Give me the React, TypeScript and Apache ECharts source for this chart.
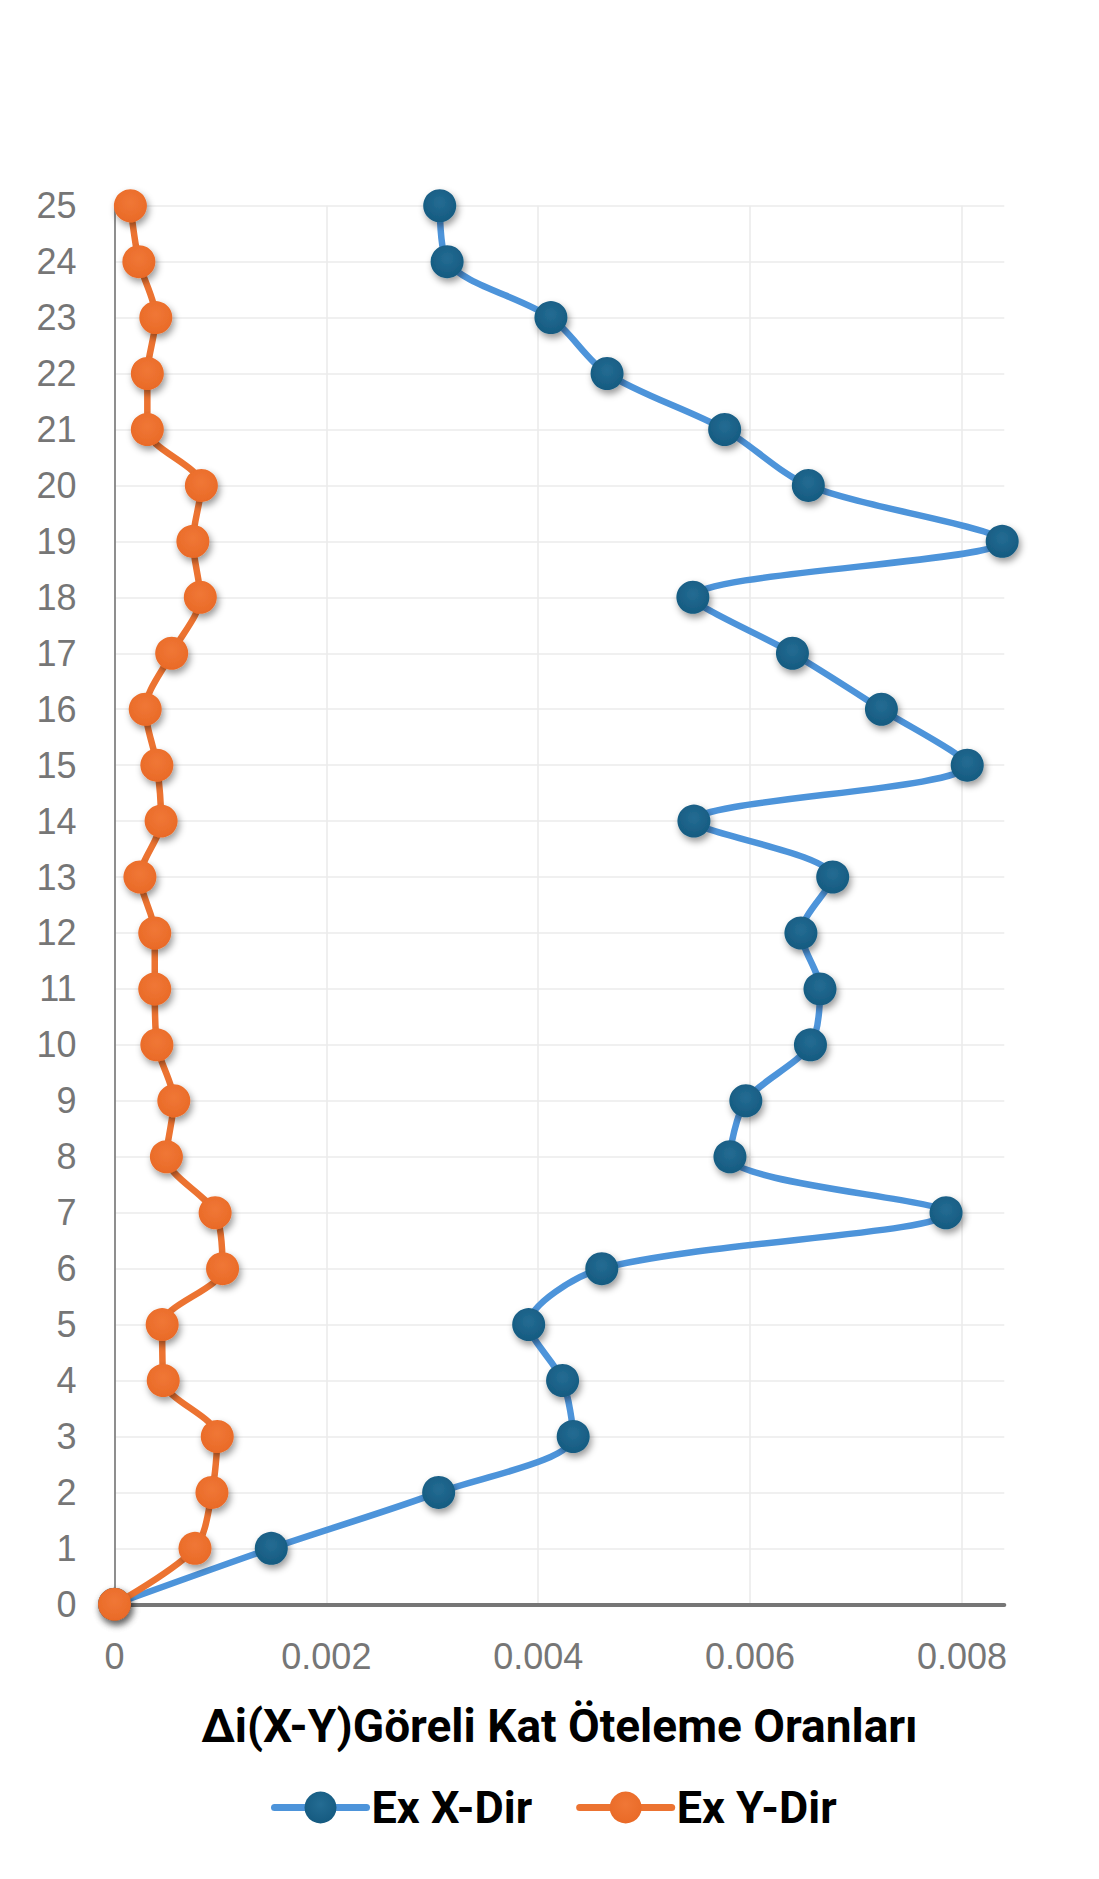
import React, { useEffect, useRef } from "react";
import * as echarts from "echarts";

const floors = [0, 1, 2, 3, 4, 5, 6, 7, 8, 9, 10, 11, 12, 13, 14, 15, 16, 17, 18, 19, 20, 21, 22, 23, 24, 25];
const exXDir = [0, 0.00148, 0.00306, 0.00433, 0.00423, 0.00391, 0.0046, 0.00785, 0.00581, 0.00596, 0.00657, 0.00666, 0.00648, 0.00678, 0.00547, 0.00805, 0.00724, 0.0064, 0.00546, 0.00838, 0.00655, 0.00576, 0.00465, 0.00412, 0.00314, 0.00307];
const exYDir = [0, 0.00076, 0.00092, 0.00097, 0.00046, 0.00045, 0.00102, 0.00095, 0.00049, 0.00056, 0.0004, 0.00038, 0.00038, 0.00024, 0.00044, 0.0004, 0.00029, 0.00054, 0.00081, 0.00074, 0.00082, 0.00031, 0.00031, 0.00039, 0.00023, 0.00015];
const seriesNames = ["Ex X-Dir", "Ex Y-Dir"];
const axisTitle = "Δi(X-Y)Göreli Kat Öteleme Oranları";

export default function App() {
  const ref = useRef<HTMLDivElement>(null);
  useEffect(() => {
    if (!ref.current) return;
    const chart = echarts.init(ref.current, null, { renderer: "svg" });
    const shadow = { shadowBlur: 7, shadowOffsetX: 2, shadowOffsetY: 4, shadowColor: "rgba(0,0,0,0.4)" };
    const blueMarker = {
      type: "radial", x: 0.5, y: 0.4, r: 0.6,
      colorStops: [{ offset: 0, color: "#246C93" }, { offset: 1, color: "#155A80" }],
    };
    const orangeMarker = {
      type: "radial", x: 0.5, y: 0.4, r: 0.6,
      colorStops: [{ offset: 0, color: "#F07736" }, { offset: 1, color: "#E96A27" }],
    };
    const mk = (vals: number[]) => vals.map((v, i) => [v, floors[i]]);
    chart.setOption({
      animation: false,
      backgroundColor: "#ffffff",
      grid: { left: 114.5, right: 94.7, top: 205.7, bottom: 274.7, containLabel: false },
      xAxis: {
        type: "value",
        min: 0,
        max: 0.0084,
        interval: 0.002,
        name: axisTitle,
        nameLocation: "middle",
        nameGap: 99,
        nameTextStyle: { fontFamily: "Roboto", fontWeight: "bold", fontSize: 46, color: "#000000" },
        axisLine: { show: true, lineStyle: { color: "#767676", width: 4 } },
        axisTick: { show: false },
        axisLabel: {
          margin: 34,
          fontFamily: "Liberation Sans, Arial, sans-serif",
          fontSize: 36,
          color: "#767676",
          showMaxLabel: false,
          formatter: (v: number) => (v === 0 ? "0" : v > 0.0081 ? "" : v.toFixed(3)),
        },
        splitLine: {
          show: true,
          lineStyle: { color: ["#EBEBEB", "#EBEBEB", "#EBEBEB", "#EBEBEB", "#EBEBEB", "rgba(0,0,0,0)"], width: 1.6 },
        },
      },
      yAxis: {
        type: "value",
        min: 0,
        max: 25,
        interval: 1,
        axisLine: { show: true, lineStyle: { color: "#767676", width: 1.6 } },
        axisTick: { show: false },
        axisLabel: {
          margin: 38,
          fontFamily: "Liberation Sans, Arial, sans-serif",
          fontSize: 36,
          color: "#767676",
        },
        splitLine: { show: true, lineStyle: { color: "#EBEBEB", width: 1.6 } },
      },
      legend: {
        data: seriesNames,
        left: 266,
        top: 1780,
        itemWidth: 92,
        itemHeight: 40,
        itemGap: 44,
        textStyle: { fontFamily: "Roboto", fontWeight: "bold", fontSize: 45, color: "#000000" },
        itemStyle: { shadowBlur: 0, shadowOffsetX: 0, shadowOffsetY: 0, shadowColor: "rgba(0,0,0,0)" },
        lineStyle: { width: 7, cap: "round", shadowBlur: 0, shadowOffsetX: 0, shadowOffsetY: 0, shadowColor: "rgba(0,0,0,0)" },
      },
      series: [
        {
          name: seriesNames[0],
          type: "line",
          data: mk(exXDir),
          smooth: 0.3,
          symbol: "circle",
          symbolSize: 33,
          lineStyle: { color: "#4D94DA", width: 6.5, cap: "round" },
          itemStyle: { color: blueMarker, ...shadow },
          z: 2,
        },
        {
          name: seriesNames[1],
          type: "line",
          data: mk(exYDir),
          smooth: 0.3,
          symbol: "circle",
          symbolSize: 33,
          lineStyle: { color: "#EC7331", width: 6.5, cap: "round" },
          itemStyle: { color: orangeMarker, ...shadow },
          z: 3,
        },
      ],
    });
    return () => chart.dispose();
  }, []);
  return (
    <div
      ref={ref}
      style={{ position: "absolute", left: 0, top: 0, width: 1099, height: 1879, background: "#ffffff" }}
    />
  );
}
